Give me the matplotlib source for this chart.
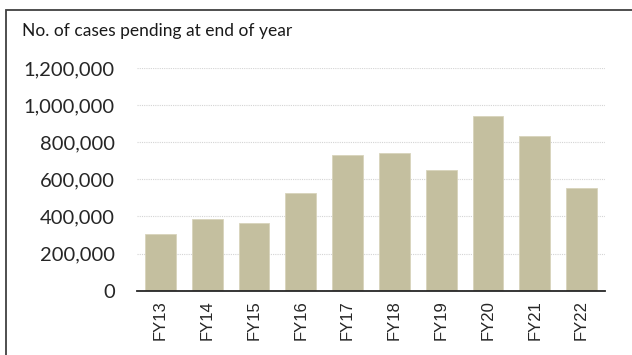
import matplotlib
matplotlib.use("Agg")
import matplotlib.pyplot as plt
from matplotlib.patches import Rectangle
from matplotlib.ticker import FuncFormatter

# data
years = ["FY13", "FY14", "FY15", "FY16", "FY17", "FY18", "FY19", "FY20", "FY21", "FY22"]
pending = [308000, 384000, 364000, 524000, 732000, 740000, 651000, 940000, 836000, 551000]

W, H = 632, 355
fig = plt.figure(figsize=(W / 100, H / 100), dpi=100)

# outer frame (only left and top edges visible in the crop)
frame = Rectangle((6 / W, -0.1), 1.2, (H - 10) / H + 0.1, transform=fig.transFigure,
                  fill=False, edgecolor="#404040", linewidth=1.3, clip_on=False)
fig.patches.append(frame)

ax = fig.add_axes([137 / W, (H - 290.7) / H, (605 - 137) / W, (290.7 - 68) / H])

x = range(len(years))
ax.bar(x, pending, width=0.66, color="#c4bf9f", edgecolor="#d8d4bc", linewidth=0.6, zorder=2)

ax.set_xlim(-0.5, len(years) - 0.5)
ax.set_ylim(0, 1200000)
ax.set_yticks(range(0, 1200001, 200000))
ax.yaxis.set_major_formatter(FuncFormatter(lambda v, p: f"{int(v):,}"))
ax.set_xticks(list(x))
ax.set_xticklabels(years, rotation=90, fontfamily="Liberation Sans", fontsize=12, color="#262626")

for lab in ax.get_yticklabels():
    lab.set_fontfamily("Lato")
    lab.set_fontsize(14.5)
    lab.set_color("#262626")

ax.tick_params(axis="y", length=0, pad=16)
ax.tick_params(axis="x", length=0, pad=7)

ax.grid(axis="y", color="#d4d4d4", linestyle=(0, (1, 1)), linewidth=0.8, zorder=0)
for s in ["top", "right", "left"]:
    ax.spines[s].set_visible(False)
ax.spines["bottom"].set_color("#262626")
ax.spines["bottom"].set_linewidth(1.3)
ax.spines["bottom"].set_zorder(3)

fig.text(22 / W, (H - 36) / H, "No. of cases pending at end of year", fontfamily="Lato",
         fontsize=12.5, color="#1a1a1a", va="baseline", ha="left")

fig.savefig("out.png", dpi=100)
